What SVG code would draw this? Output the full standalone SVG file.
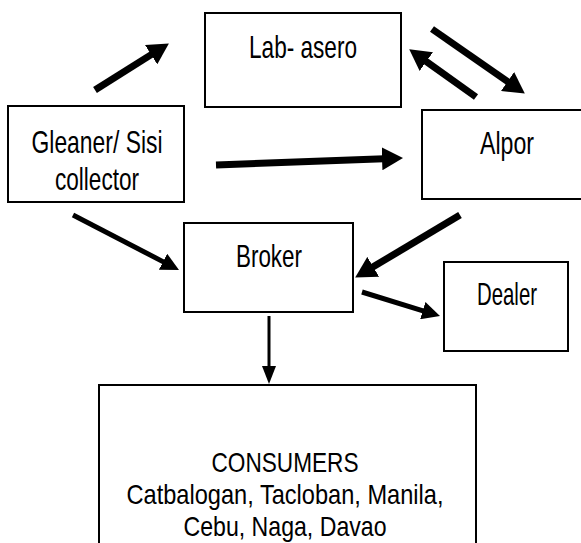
<svg xmlns="http://www.w3.org/2000/svg" width="581" height="543" viewBox="0 0 581 543">
<style>
.box{fill:#fff;stroke:#000;stroke-width:2}
.t{font-family:"Liberation Sans Narrow","Liberation Sans",Arial,sans-serif;font-size:32px;fill:#000;text-anchor:middle}
.c{font-size:28px}
.thick{stroke:#000;stroke-width:7;fill:none}
.med{stroke:#000;stroke-width:5;fill:none}
.thin{stroke:#000;stroke-width:3;fill:none}
</style>
<defs>
<marker id="hb" markerUnits="userSpaceOnUse" markerWidth="21" markerHeight="23" refX="2" refY="11.5" orient="auto" viewBox="0 0 21 23"><path d="M0,0 L21,11.5 L0,23 z" fill="#000"/></marker>
<marker id="hm" markerUnits="userSpaceOnUse" markerWidth="18" markerHeight="18" refX="2" refY="9" orient="auto" viewBox="0 0 18 18"><path d="M0,0 L18,9 L0,18 z" fill="#000"/></marker>
<marker id="hs" markerUnits="userSpaceOnUse" markerWidth="18" markerHeight="14" refX="2" refY="7" orient="auto" viewBox="0 0 18 14"><path d="M0,0 L18,7 L0,14 z" fill="#000"/></marker>
</defs>
<g id="lab-asero">
<rect class="box" x="205" y="13" width="196" height="94"/>
<text class="t" x="303" y="58" textLength="108" lengthAdjust="spacingAndGlyphs">Lab- asero</text>
</g>
<g id="gleaner">
<rect class="box" x="8" y="106" width="176" height="96"/>
<text class="t" x="97" y="153" textLength="131" lengthAdjust="spacingAndGlyphs">Gleaner/ Sisi</text>
<text class="t" x="97" y="190" textLength="84" lengthAdjust="spacingAndGlyphs">collector</text>
</g>
<g id="alpor">
<rect class="box" x="422" y="110" width="162" height="89"/>
<text class="t" x="507" y="154" textLength="54" lengthAdjust="spacingAndGlyphs">Alpor</text>
</g>
<g id="broker">
<rect class="box" x="184" y="223" width="169" height="89"/>
<text class="t" x="269" y="267" textLength="66" lengthAdjust="spacingAndGlyphs">Broker</text>
</g>
<g id="dealer">
<rect class="box" x="444" y="262" width="124" height="89"/>
<text class="t" x="507" y="305" textLength="60" lengthAdjust="spacingAndGlyphs">Dealer</text>
</g>
<g id="consumers">
<rect class="box" x="99" y="385" width="377" height="165"/>
<text class="t c" x="285" y="472" textLength="147" lengthAdjust="spacingAndGlyphs">CONSUMERS</text>
<text class="t c" x="285" y="504" textLength="317" lengthAdjust="spacingAndGlyphs">Catbalogan, Tacloban, Manila,</text>
<text class="t c" x="285" y="536" textLength="203" lengthAdjust="spacingAndGlyphs">Cebu, Naga, Davao</text>
</g>
<g id="connectors">
<line class="thick" x1="95" y1="90" x2="152.8" y2="53.6" marker-end="url(#hb)"/>
<line class="thick" x1="432" y1="29" x2="509.2" y2="82.7" marker-end="url(#hb)"/>
<line class="thick" x1="476" y1="97" x2="424.7" y2="60.4" marker-end="url(#hb)"/>
<line class="thick" x1="216" y1="165" x2="384" y2="158.7" marker-end="url(#hb)"/>
<line class="thick" x1="460" y1="215" x2="371.5" y2="267.8" stroke-width="8" marker-end="url(#hb)"/>
<line class="med" x1="73" y1="215" x2="164.8" y2="262.6" marker-end="url(#hm)"/>
<line class="med" x1="362" y1="292" x2="424.7" y2="311.3" marker-end="url(#hm)"/>
<line class="thin" x1="269" y1="316" x2="269" y2="368" marker-end="url(#hs)"/>
</g>
</svg>
